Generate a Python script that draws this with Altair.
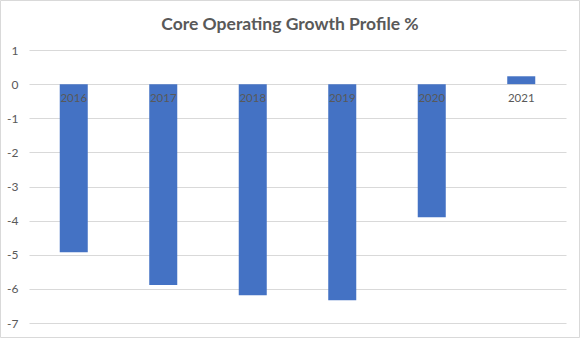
import altair as alt
import pandas as pd

years = ["2016", "2017", "2018", "2019", "2020", "2021"]
growth = [-4.93, -5.89, -6.19, -6.33, -3.9, 0.23]
title_text = "Core Operating Growth Profile %"
y_ticks = [1, 0, -1, -2, -3, -4, -5, -6, -7]

df = pd.DataFrame({"year": years, "value": growth})

W, H = 537, 273
PL, PT, PR, PB = 29, 50, 14, 15
FONT = "Lato"
GREY = "#595959"

xscale = alt.Scale(domain=years, paddingInner=0.687, paddingOuter=0.3435)
yscale = alt.Scale(domain=[-7, 1], nice=False, zero=False)

base = alt.Chart(df)

bars = base.mark_bar(color="#4472c4").encode(
    x=alt.X("year:N", scale=xscale, axis=None, sort=years),
    y=alt.Y("value:Q", scale=yscale,
            axis=alt.Axis(values=y_ticks, tickCount=9, title=None, domain=False, ticks=False,
                          labelPadding=11, labelFont=FONT, labelFontSize=12,
                          labelColor=GREY, gridColor="#d9d9d9", gridWidth=1,
                          labelOverlap=False, labelExpr="'' + datum.value")),
    y2=alt.datum(0),
)

labels = base.mark_text(baseline="top", dy=9, font=FONT, fontSize=11.5, color=GREY).encode(
    x=alt.X("year:N", scale=xscale, sort=years),
    y=alt.datum(0),
    text="year:N",
)

title = alt.Chart(pd.DataFrame({"t": [title_text]})).mark_text(
    font=FONT, fontSize=17.5, fontWeight="bold", color=GREY, baseline="alphabetic", align="center"
).encode(
    x=alt.value(290 - PL),
    y=alt.value(30 - PT),
    text="t:N",
)

border = alt.Chart(pd.DataFrame({"a": [0]})).mark_rect(
    fill=None, stroke="#d9d9d9", strokeWidth=1
).encode(
    x=alt.value(-PL + 0.5),
    x2=alt.value(W + PR - 0.5),
    y=alt.value(-PT + 0.5),
    y2=alt.value(H + PB - 0.5),
)

chart = alt.layer(border, bars, labels, title).properties(
    width=W, height=H,
    autosize=alt.AutoSizeParams(type="none"),
    padding={"left": PL, "top": PT, "right": PR, "bottom": PB},
    background="white",
).configure_view(stroke=None)

chart.save("out.html", embed_options={"renderer": "svg", "actions": False})
